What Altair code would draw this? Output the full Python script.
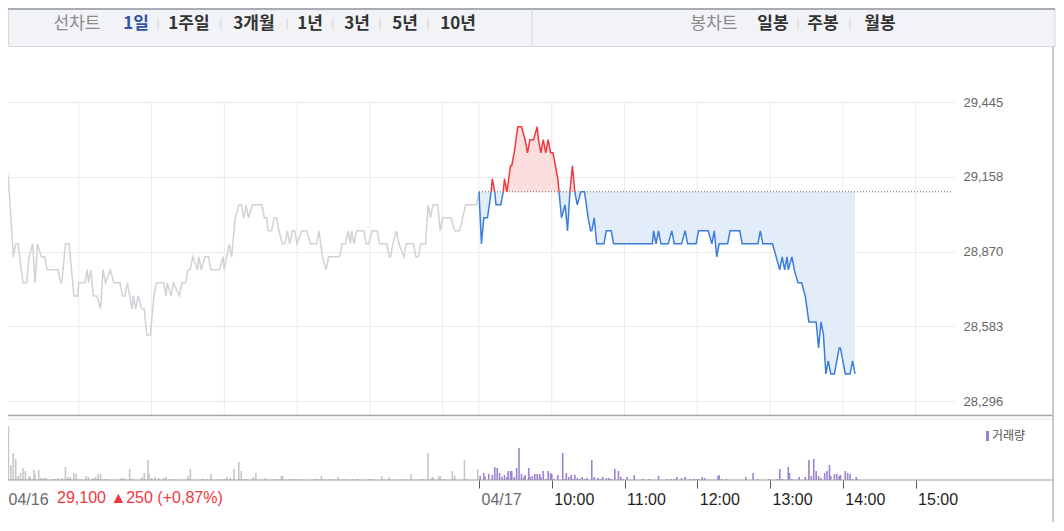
import altair as alt
import pandas as pd

PREV_CLOSE = 29100

# 04/16 session: minutes after 09:00 and price (won)
D16_MIN = [0, 2, 6, 8, 10, 14, 17, 19, 22, 24, 26, 29, 32, 34, 43, 45, 46, 49, 52, 54, 56, 59, 60, 65, 67, 68, 70, 72, 75, 78,
           80, 82, 86, 89, 94, 96, 98, 100, 104, 105, 107, 109, 112, 114, 116, 119, 122, 124, 130, 132, 133, 136, 138, 143,
           145, 148, 150, 152, 154, 158, 159, 161, 164, 167, 169, 176, 179, 180, 184, 186, 189, 192, 194, 196, 198, 200,
           203, 211, 213, 215, 216, 219, 221, 223, 225, 228, 230, 232, 234, 236, 238, 240, 244, 248, 251, 256, 258, 261,
           264, 266, 275, 277, 280, 282, 284, 285, 287, 289, 295, 297, 299, 302, 306, 308, 314, 316, 317, 319, 322, 324,
           328, 330, 336, 338, 340, 342, 346, 348, 350, 352, 356, 358, 360, 367, 370, 374, 379, 388, 390]
D16_PRICE = [29200, 29150, 28850, 28900, 28900, 28750, 28750, 28850, 28900, 28750, 28900, 28850, 28850, 28800, 28800, 28750,
             28750, 28900, 28900, 28800, 28700, 28700, 28750, 28750, 28800, 28750, 28800, 28700, 28700, 28650,
             28800, 28750, 28800, 28750, 28750, 28700, 28700, 28750, 28650, 28700, 28650, 28700, 28650, 28650, 28550,
             28550, 28700, 28750, 28750, 28700, 28750, 28700, 28750, 28700,
             28750, 28750, 28800, 28800, 28850, 28800, 28850, 28800, 28850, 28850, 28800, 28800, 28850, 28800, 28900,
             28850, 29000, 29050, 29050, 29000, 29050, 29000,
             29050, 29050, 29000, 29000, 28950, 28950, 29000, 29000, 28950, 28900, 28900, 28950, 28900, 28950, 28950,
             28900, 28950, 28950, 28900, 28900, 28950, 28850,
             28800, 28850, 28850, 28900, 28900, 28950, 28900, 28950, 28900, 28950, 28950, 28900, 28900, 28950, 28950,
             28900, 28900, 28850, 28850, 28900, 28950, 28900,
             28850, 28900, 28900, 28850, 28850, 28900, 28900, 29050, 29000, 29050, 29050, 28950, 29000, 29000, 28950,
             28950, 29050, 29050, 29100]

# 04/17 session: minutes after 09:00 and price (won)
D17_MIN = [0, 2, 4, 7, 10, 11, 13, 14, 18, 20, 21, 23, 26, 27, 29, 32, 35, 38, 40, 42, 45, 48, 49, 51, 53, 55, 57, 59, 61,
           63, 65, 66, 68, 71, 73, 75, 77, 79, 81, 84, 87, 90, 92, 93, 95, 97, 103, 105, 109, 111, 143, 144, 146, 148,
           150, 156, 159, 161, 167, 170, 172, 179, 181, 189, 192, 194, 196, 198, 205, 207, 215, 217, 230, 232, 234, 242,
           245, 248, 250, 252, 254, 255, 258, 260, 263, 266, 269, 272, 278, 280, 282, 284, 286, 288, 290, 293, 297, 298,
           302, 306, 308, 310]
D17_PRICE = [29100, 28900, 29000, 29000, 29100, 29150, 29100, 29050, 29050, 29100, 29150, 29100, 29200, 29200, 29250,
             29350, 29350, 29300, 29250, 29300, 29300, 29350, 29300, 29250, 29300, 29250, 29300, 29250, 29250,
             29200, 29150, 29100, 29000, 29050, 28950, 29100, 29200, 29100, 29050, 29100, 29100, 29000, 28950, 28950,
             29000, 28900, 28900, 28950, 28950, 28900, 28900, 28950, 28900, 28950,
             28900, 28900, 28950, 28900, 28900, 28950, 28900, 28900, 28950, 28950, 28900, 28950, 28850, 28900, 28900,
             28950, 28950, 28900, 28900, 28950, 28900, 28900,
             28850, 28800, 28850, 28800, 28850, 28800, 28850, 28800, 28750, 28750, 28700, 28600, 28600, 28500, 28600,
             28550, 28400, 28450, 28400, 28400, 28500, 28500,
             28400, 28400, 28450, 28400]

# volume (relative units), 04/16 minutes after 09:00
V16_MIN = [1, 2, 4, 6, 8, 10, 12, 14, 16, 19, 20, 23, 24, 27, 29, 31, 33, 39, 40, 43, 46, 49, 51, 53, 56, 58, 61, 66, 68,
           72, 74, 76, 78, 82, 95, 97, 102, 104, 112, 114, 117, 118, 120, 123, 126, 130, 132, 136, 150, 152, 162, 166,
           169, 177, 180, 182, 185, 188, 192, 194, 197, 198, 204, 206, 214, 222, 227, 228, 234, 237, 241, 254, 256,
           260, 263, 267, 274, 279, 286, 290, 299, 302, 310, 316, 325, 334, 344, 348, 351, 352, 357, 358, 361, 368,
           370, 378, 380, 389]
V16 = [36, 54, 15, 27, 21, 4, 7, 12, 9, 4, 3, 10, 6, 10, 2, 2, 2, 1, 1, 2, 2, 13, 3, 3, 7, 6, 1, 4, 3,
       2, 3, 6, 6, 1, 2, 2, 11, 1, 3, 7, 20, 6, 2, 3, 2, 2, 3, 1, 4, 11, 1, 1,
       6, 1, 1, 3, 2, 11, 18, 9, 1, 1, 3, 7, 2, 1, 4, 4, 1, 1, 1, 1, 1,
       4, 1, 1, 3, 1, 1, 1, 1, 1, 4, 3, 1, 6, 1, 27, 2, 3, 4, 4, 1, 9,
       4, 20, 1, 11]

# volume (relative units), 04/17 minutes after 09:00
V17_MIN = [1, 4, 5, 8, 11, 13, 15, 17, 19, 21, 23, 24, 26, 27, 29, 31, 33, 35, 37, 38, 41, 42, 44, 46, 48, 50, 51, 53,
           55, 57, 59, 60, 62, 65, 69, 71, 72, 74, 76, 77, 79, 81, 83, 85, 87, 89, 93, 95, 98, 100, 102, 105, 107, 109,
           112, 115, 117, 119, 122, 128, 135, 140, 148, 155, 158, 161, 163, 167, 170, 174, 177, 179, 181, 184, 186,
           197, 198, 200, 204, 220, 226, 230, 239, 246, 248, 250, 255, 256, 258, 264, 269, 272, 274, 276, 278, 280,
           282, 285, 287, 289, 290, 293, 295, 297, 298, 302, 304, 306, 308, 311, 312]
V17 = [4, 7, 3, 6, 5, 13, 12, 7, 3, 5, 3, 9, 9, 9, 3, 12, 32, 6, 3, 5, 12, 3, 4, 6, 6, 6, 3, 9,
       1, 9, 7, 6, 1, 5, 27, 1, 7, 3, 5, 1, 5, 2, 1, 3, 1, 2, 20, 3, 2, 1, 3, 2, 2, 1,
       11, 9, 3, 1, 3, 5, 1, 1, 4, 1, 1, 1, 3, 2, 3, 1, 1, 1, 1, 3, 2,
       4, 5, 1, 1, 3, 7, 1, 1, 1, 11, 1, 13, 7, 1, 3, 3, 20, 4, 21, 9, 4,
       2, 7, 9, 15, 4, 6, 6, 4, 5, 9, 7, 6, 1, 3, 1]

Y_TICKS = [28296, 28583, 28870, 29158, 29445]
X_TICK_MIN = [0, 390, 450, 510, 570, 630, 690, 750]
X_TICK_LABELS = ["04/16", "04/17", "10:00", "11:00", "12:00", "13:00", "14:00", "15:00"]
GRID_MIN = [0, 60, 120, 180, 240, 300, 360, 390, 450, 510, 570, 630, 690, 750]
DAY_SHIFT = 390

HEADER_LEFT = ["1주일", "3개월", "1년", "3년", "5년", "10년"]
HEADER_RIGHT = ["일봉", "주봉", "월봉"]

RED = "#f0383c"
BLUE = "#3a7ddd"
RED_FILL = "#fcdede"
BLUE_FILL = "#e3ecf9"
GREY_LINE = "#cfd2d7"
GREY_VOL = "#c5c7cc"
PURPLE = "#9b82d3"
GRID = "#ebebeb"
KFONT = "Noto Sans CJK KR"
NFONT = "Liberation Sans"

# ---------- data frames ----------
df16 = pd.DataFrame({"t": D16_MIN, "p": D16_PRICE})

t17 = [m + DAY_SHIFT for m in D17_MIN]
pts = []
for i, (t, p) in enumerate(zip(t17, D17_PRICE)):
    if i > 0:
        t0, p0 = t17[i - 1], D17_PRICE[i - 1]
        if (p0 - PREV_CLOSE) * (p - PREV_CLOSE) < 0:
            tc = t0 + (PREV_CLOSE - p0) * (t - t0) / (p - p0)
            pts.append((tc, PREV_CLOSE))
    pts.append((t, p))

df_area = pd.DataFrame({
    "t": [a for a, _ in pts],
    "hi": [max(b, PREV_CLOSE) for _, b in pts],
    "lo": [min(b, PREV_CLOSE) for _, b in pts],
    "base": [PREV_CLOSE] * len(pts),
})

rows = []
run = 0
prev_side = None
for i in range(len(pts) - 1):
    (ta, pa), (tb, pb) = pts[i], pts[i + 1]
    side = "up" if (pa + pb) / 2 > PREV_CLOSE else "down"
    if side != prev_side:
        run += 1
        rows.append({"t": ta, "p": pa, "run": run, "side": side, "o": len(rows)})
        prev_side = side
    rows.append({"t": tb, "p": pb, "run": run, "side": side, "o": len(rows)})
df_runs = pd.DataFrame(rows)
df_up = df_runs[df_runs.side == "up"]
df_down = df_runs[df_runs.side == "down"]

df_base = pd.DataFrame({"t0": [DAY_SHIFT], "t1": [780], "p": [PREV_CLOSE]})
df_grid = pd.DataFrame({"m": GRID_MIN})
df_v16 = pd.DataFrame({"m": V16_MIN, "v": V16, "z": 0})
df_v17 = pd.DataFrame({"m": [m + DAY_SHIFT for m in V17_MIN], "v": V17, "z": 0})
one = pd.DataFrame({"a": [0]})

# ---------- scales / axes ----------
W = 944
XS = alt.Scale(domain=[0, 780], range=[-2, W], nice=False, zero=False)
PS = alt.Scale(domain=[28238.4, 29445], range=[408, 94], nice=False, zero=False)
VS = alt.Scale(domain=[0, 61], range=[472, 411], nice=False, zero=True)

label_expr = "''"
for m, lab in reversed(list(zip(X_TICK_MIN, X_TICK_LABELS))):
    label_expr = f"datum.value == {m} ? '{lab}' : {label_expr}"

XAXIS = alt.Axis(values=X_TICK_MIN, labelExpr=label_expr, grid=False, domain=False, ticks=True,
                 tickSize=8, tickColor="#555555", tickWidth=1, labelAlign="left", labelPadding=3,
                 labelOffset=2, labelFontSize=16, labelFont=NFONT, labelOverlap=False, title=None,
                 labelColor={"condition": {"test": "datum.value < 400", "value": "#6a6a6a"}, "value": "#1e1e1e"})
PAXIS = alt.Axis(orient="right", values=Y_TICKS, format=",d", grid=True, gridColor=GRID, gridWidth=1,
                 domain=False, ticks=False, labelPadding=11, labelFontSize=13, labelColor="#666666",
                 labelFont=NFONT, title=None)


def X(f):
    return alt.X(f, type="quantitative", scale=XS, axis=XAXIS)


def PY(f):
    return alt.Y(f, type="quantitative", scale=PS, axis=PAXIS)


vgrid = alt.Chart(df_grid).mark_rule(color=GRID, strokeWidth=1).encode(
    x=X("m"), y=alt.value(94), y2=alt.value(408))
blue_area = alt.Chart(df_area).mark_area(color=BLUE_FILL).encode(x=X("t"), y=PY("lo"), y2=alt.Y2("base"))
red_area = alt.Chart(df_area).mark_area(color=RED_FILL).encode(x=X("t"), y=PY("hi"), y2=alt.Y2("base"))
base_rule = alt.Chart(df_base).mark_rule(color="#666666", strokeDash=[1, 2], strokeWidth=1).encode(
    x=X("t0"), x2=alt.X2("t1"), y=PY("p"))
grey_line = alt.Chart(df16).mark_line(color=GREY_LINE, strokeWidth=1.5).encode(x=X("t"), y=PY("p"))
up_line = alt.Chart(df_up).mark_line(color=RED, strokeWidth=1.5).encode(
    x=X("t"), y=PY("p"), detail="run:N", order="o:Q")
down_line = alt.Chart(df_down).mark_line(color=BLUE, strokeWidth=1.5).encode(
    x=X("t"), y=PY("p"), detail="run:N", order="o:Q")

price = alt.layer(vgrid, blue_area, red_area, base_rule, grey_line, up_line, down_line)

vol16 = alt.Chart(df_v16).mark_rule(color=GREY_VOL, strokeWidth=1.6).encode(
    x=X("m"), y=alt.Y("v", type="quantitative", scale=VS, axis=None), y2=alt.Y2("z"))
vol17 = alt.Chart(df_v17).mark_rule(color=PURPLE, strokeWidth=1.6).encode(
    x=X("m"), y=alt.Y("v", type="quantitative", scale=VS, axis=None), y2=alt.Y2("z"))
volume = alt.layer(vol16, vol17)


def hline(x1, x2, y, color, w):
    return alt.Chart(one).mark_rule(color=color, strokeWidth=w).encode(
        x=alt.value(x1), x2=alt.value(x2), y=alt.value(y))


def vline(x, y1, y2, color, w):
    return alt.Chart(one).mark_rule(color=color, strokeWidth=w).encode(
        x=alt.value(x), y=alt.value(y1), y2=alt.value(y2))


def txt(s, x, y, size, color, weight="normal", align="center", font=KFONT):
    return alt.Chart(one).mark_text(text=s, align=align, baseline="middle", fontSize=size, font=font,
                                    fontWeight=weight, color=color).encode(x=alt.value(x), y=alt.value(y))


deco = [
    hline(0, 1045, 407.5, "#a2a5ab", 1.5),
    hline(0, 1045, 411, "#e6e6e6", 1),
    hline(0, 1045, 472, "#9a9a9a", 1.2),
    vline(1045, 0, 523, "#b5b8be", 1.5),
]

header = [
    alt.Chart(one).mark_rect(fill="#f1f3f7", stroke="#d6d9df", strokeWidth=1).encode(
        x=alt.value(0.5), x2=alt.value(1047), y=alt.value(0.5), y2=alt.value(38.5)),
    hline(0, 1047, 1, "#a9acb3", 2),
    vline(524, 1, 38.5, "#d3d6dc", 1),
    txt("선차트", 69, 16, 17, "#8a8a8a"),
    txt("1일", 128, 16, 17, "#3552a8", "bold"),
    txt("봉차트", 706, 16, 17, "#8a8a8a"),
]
left_x = [181, 246, 302, 349, 397, 450]
sep_left = [150, 213, 279, 325, 372, 420]
right_x = [765, 815, 872]
sep_right = [790, 842]
for s, x in zip(HEADER_LEFT, left_x):
    header.append(txt(s, x, 16, 17, "#333333", "bold"))
for s, x in zip(HEADER_RIGHT, right_x):
    header.append(txt(s, x, 16, 17, "#333333", "bold"))
for x in sep_left + sep_right:
    header.append(vline(x, 10, 22, "#d4d4d4", 1))

extra = [
    txt("29,100 ▲250 (+0,87%)", 49, 490, 16, "#f0383c", align="left", font=NFONT),
    alt.Chart(one).mark_rect(color=PURPLE).encode(
        x=alt.value(978), x2=alt.value(981), y=alt.value(423), y2=alt.value(433)),
    txt("거래량", 984, 428, 12, "#555555", align="left"),
]

chart = alt.layer(price, volume, *deco, *header, *extra).resolve_scale(y="independent").properties(
    width=W, height=472, background="white",
    padding={"left": 0, "top": 0, "right": 104, "bottom": 42},
    autosize=alt.AutoSizeParams(type="none"),
).configure_view(strokeWidth=0)

chart.save("out.html", embed_options={"renderer": "svg", "actions": False})
